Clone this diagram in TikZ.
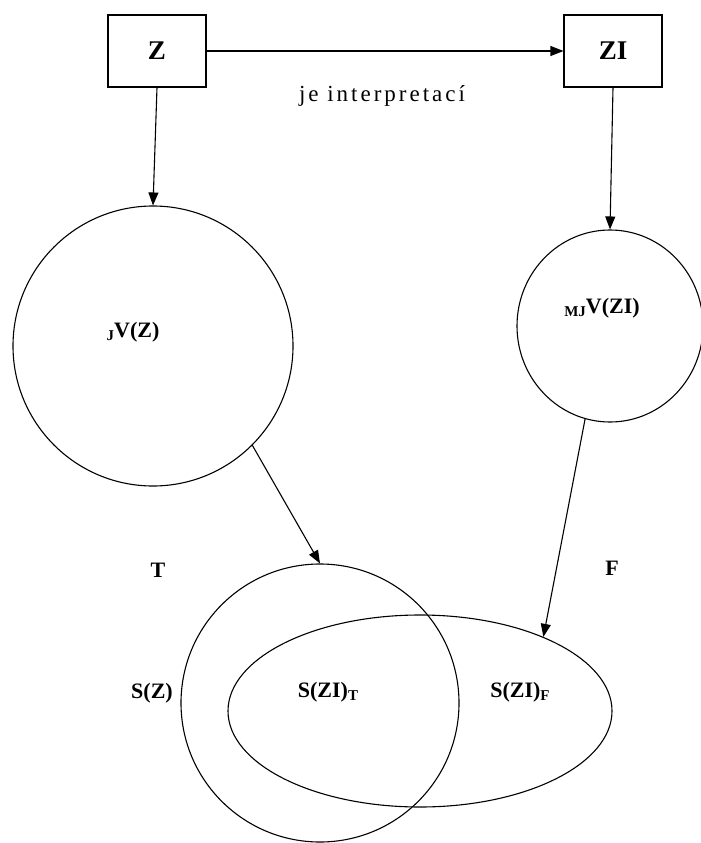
\documentclass[tikz,border=0pt]{standalone}
\usepackage{fontspec}
\setmainfont{Liberation Serif}
\newfontfamily\spacedfnt[LetterSpace=13]{Liberation Serif}
\usetikzlibrary{arrows.meta,shapes.geometric}
\newcommand{\lowsub}[1]{\raisebox{-3pt}{\fontsize{15}{15}\selectfont\bfseries #1}}
\begin{document}
\begin{tikzpicture}[x=1pt,y=-1pt, line width=1.1pt,
  arr/.style={-{Triangle[length=13pt,width=10pt]}},
  boxnode/.style={draw, minimum width=98pt, minimum height=72pt, inner sep=0pt, font=\fontsize{27}{30}\selectfont\bfseries},
  lbl/.style={font=\fontsize{22}{24}\selectfont\bfseries, inner sep=0pt},
  ring/.style={draw, inner sep=0pt}]
\useasboundingbox (0,0) rectangle (701,843);
\node[boxnode] (Z) at (157,51) {Z};
\node[boxnode] (ZI) at (613,51) {ZI};
\node[font=\spacedfnt\fontsize{23}{24}\selectfont, inner sep=0pt] (lab) at (382,96) {je interpretací};

\node[ring, circle, minimum size=280pt] (JV) at (153,346) {};
\node[ring, ellipse, minimum width=186pt, minimum height=192pt] (MJ) at (610,326) {};
\node[ring, circle, minimum size=278pt] (SZ) at (320,703) {};
\node[ring, ellipse, minimum width=384pt, minimum height=192pt] (SZI) at (420,711) {};

\node[lbl] (tJV) at (133,332) {\lowsub{J}V(Z)};
\node[lbl] (tMJ) at (602,308) {\lowsub{MJ}V(ZI)};
\node[lbl] (tT) at (158,570) {T};
\node[lbl] (tF) at (612,568) {F};
\node[lbl] (tSZ) at (152,693) {S(Z)};
\node[lbl] (tSZIT) at (328,692) {S(ZI)\lowsub{T}};
\node[lbl] (tSZIF) at (520,692) {S(ZI)\lowsub{F}};

\draw[arr] (Z.east) -- (ZI.west);
\draw[arr] (Z.south) -- (JV.north);
\draw[arr] (ZI.south) -- (MJ.north);
\draw[arr] (JV.-45) -- (SZ.north);
\draw[arr] (MJ.-105) -- (SZI.31);
\end{tikzpicture}
\end{document}
